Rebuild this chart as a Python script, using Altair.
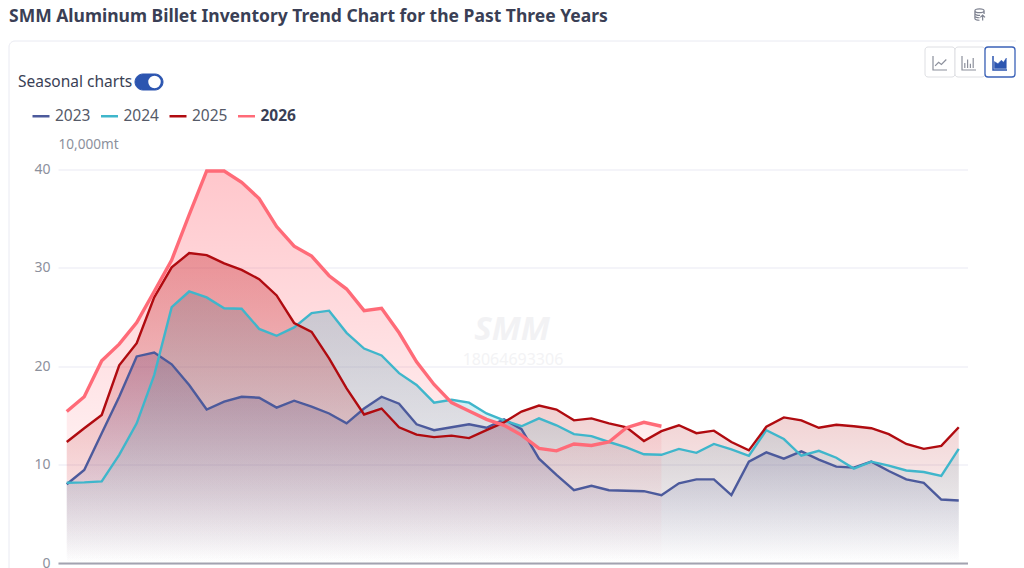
import altair as alt

years = ["2023", "2024", "2025", "2026"]
colors = ["#4C5A9C", "#3FB6CB", "#B00B10", "#FF6B78"]

v2023 = [8.0, 9.45, 13.2, 16.9, 21.0, 21.4, 20.2, 18.1, 15.6, 16.4, 16.9, 16.8, 15.8, 16.5, 15.9, 15.2,
         14.2, 15.7, 16.9, 16.2, 14.1, 13.5, 13.8, 14.1, 13.75, 14.6, 13.6, 10.6, 8.95, 7.4, 7.85, 7.4,
         7.35, 7.3, 6.9, 8.1, 8.5, 8.5, 6.9, 10.3, 11.25, 10.6, 11.35, 10.5, 9.8, 9.7, 10.3, 9.35, 8.5,
         8.15, 6.45, 6.35]
v2024 = [8.15, 8.2, 8.3, 11.0, 14.2, 19.1, 26.0, 27.6, 27.0, 25.9, 25.85, 23.8, 23.1, 23.95, 25.4, 25.65,
         23.4, 21.8, 21.1, 19.3, 18.1, 16.3, 16.6, 16.3, 15.2, 14.5, 13.9, 14.7, 14.0, 13.1, 12.9, 12.3,
         11.75, 11.05, 11.0, 11.6, 11.2, 12.1, 11.55, 10.9, 13.5, 12.6, 10.9, 11.4, 10.7, 9.6, 10.3, 9.9,
         9.4, 9.25, 8.85, 11.6]
v2025 = [12.3, 13.7, 15.05, 20.1, 22.35, 27.0, 30.05, 31.5, 31.3, 30.45, 29.8, 28.85, 27.2, 24.4, 23.5,
         20.8, 17.75, 15.1, 15.7, 13.8, 13.05, 12.8, 12.95, 12.7, 13.5, 14.3, 15.4, 16.0, 15.6, 14.5, 14.7,
         14.2, 13.8, 12.4, 13.4, 14.0, 13.2, 13.45, 12.3, 11.45, 13.85, 14.8, 14.5, 13.75, 14.05, 13.9,
         13.7, 13.1, 12.1, 11.6, 11.9, 13.8]
v2026 = [15.4, 16.9, 20.55, 22.25, 24.45, 27.6, 30.8, 35.4, 39.85, 39.85, 38.7, 37.05, 34.2, 32.2, 31.2,
         29.2, 27.85, 25.65, 25.9, 23.4, 20.45, 18.15, 16.3, 15.45, 14.6, 14.0, 13.0, 11.65, 11.4, 12.1,
         11.95, 12.3, 13.75, 14.3, 13.9]
series = [v2023, v2024, v2025, v2026]
y_ticks = [0, 10, 20, 30, 40]

title_text = "SMM Aluminum Billet Inventory Trend Chart for the Past Three Years"
TEXT_DARK = "#3A3F55"
TEXT_GRAY = "#8C909C"
BLUE = "#2C55B0"
FONT = "Noto Sans"


def px(x):
    return x - 58


def py(y):
    return y - 169.5


one = alt.Data(values=[{"k": 0}])


def text(s, x, y, size, color, weight="normal", align="left", style="normal", font=FONT):
    return alt.Chart(one).mark_text(
        text=s, align=align, baseline="middle", fontSize=size, color=color,
        fontWeight=weight, font=font, fontStyle=style,
    ).encode(x=alt.value(px(x)), y=alt.value(py(y)))


def box(x0, y0, x1, y1, fill, stroke, radius=3, sw=1):
    return alt.Chart(one).mark_rect(
        fill=fill, stroke=stroke, strokeWidth=sw, cornerRadius=radius,
    ).encode(x=alt.value(px(x0)), x2=alt.value(px(x1)), y=alt.value(py(y0)), y2=alt.value(py(y1)))


def glyph(path, x, y, span, color, filled=False, sw=1.2):
    return alt.Chart(one).mark_point(
        shape=path, size=span * span, filled=filled, opacity=1,
        stroke=color, strokeWidth=sw, fill=color if filled else "transparent",
    ).encode(x=alt.value(px(x)), y=alt.value(py(y)))


def rgba(hex_color, a):
    r, g, b = int(hex_color[1:3], 16), int(hex_color[3:5], 16), int(hex_color[5:7], 16)
    return f"rgba({r},{g},{b},{a})"


x_scale = alt.Scale(domain=[-0.5, 51.5], nice=False, zero=False)
y_scale = alt.Scale(domain=[0, 40], nice=False)
color_scale = alt.Scale(domain=years, range=colors)

x_enc = alt.X("week:Q", scale=x_scale, axis=alt.Axis(
    labels=False, ticks=False, grid=False, title=None, domain=True,
    domainColor="#A3A3B0", domainWidth=2, zindex=1))
y_enc = alt.Y("value:Q", scale=y_scale, axis=alt.Axis(
    values=y_ticks, ticks=False, domain=False, grid=True, gridColor="#F1F1F7", gridWidth=1.5,
    labelFontSize=14, labelColor=TEXT_GRAY, labelFont=FONT, labelPadding=8, zindex=0,
    title="10,000mt", titleAngle=0, titleX=0, titleY=-25, titleAlign="left", titleBaseline="middle",
    titleFontSize=13.6, titleFontWeight="normal", titleColor=TEXT_GRAY, titleFont=FONT))

layers = [box(9, 41, 1040, 640, "transparent", "#E9EAF2", radius=6)]

layers += [
    text("SMM", 512, 330, 33, "#F2F2F4", weight="bold", align="center", style="italic"),
    text("18064693306", 513, 360, 16, "#F3F3F5", align="center"),
]

area_layers = []
line_layers = []
for yr, vals, col in zip(years, series, colors):
    rows = [{"week": i, "value": v, "year": yr} for i, v in enumerate(vals)]
    d = alt.Data(values=rows)
    grad = alt.LinearGradient(
        gradient="linear", x1=0, x2=0, y1=0, y2=1,
        stops=[alt.GradientStop(offset=0, color=rgba(col, 0.38)),
               alt.GradientStop(offset=1, color=rgba(col, 0.0))],
    )
    area_layers.append(alt.Chart(d).mark_area(color=grad, line=False).encode(x=x_enc, y=y_enc))
    line_layers.append(alt.Chart(d).mark_line(strokeWidth=3.4 if yr == "2026" else 2.4).encode(
        x=x_enc, y=y_enc,
        color=alt.Color("year:N", scale=color_scale, legend=alt.Legend(
            orient="none", legendX=px(31), legendY=py(106), direction="horizontal", columns=4,
            title=None, symbolType="stroke", symbolSize=289, symbolStrokeWidth=2.5,
            labelFontSize=15.5, labelFont=FONT, labelOffset=4, columnPadding=4.5, padding=0,
            labelColor={"expr": "datum.label == '2026' ? '#3A3F55' : '#555A68'"},
            labelFontWeight={"expr": "datum.label == '2026' ? 'bold' : 'normal'"},
        )),
    ))
layers += area_layers + line_layers

BX = -2
layers += [
    text(title_text, 9, 16.8, 17.5, TEXT_DARK, weight="bold"),
    text("Seasonal charts", 18, 82, 15.5, TEXT_DARK),
    box(135, 74, 163, 90, BLUE, BLUE, radius=8),
    alt.Chart(one).mark_point(filled=True, fill="#FFFFFF", size=110, opacity=1, stroke="#FFFFFF").encode(
        x=alt.value(px(154.5)), y=alt.value(py(82))),
    box(927 + BX, 47, 957 + BX, 77, "#FFFFFF", "#DEDFE3"),
    box(957 + BX, 47, 987 + BX, 77, "#FFFFFF", "#DEDFE3"),
    box(987 + BX, 47, 1017 + BX, 77, "#FFFFFF", "#3B62B8", sw=1.3),
    glyph("M-1,-1 V1 H1 M-0.7,0.4 L-0.2,-0.1 L0.2,0.2 L0.9,-0.5", 942 + BX, 63, 14, "#8C909C"),
    glyph("M-1,-1 V1 H1 M-0.6,0.7 V0 M-0.2,0.7 V-0.5 M0.2,0.7 V0.1 M0.6,0.7 V-0.7", 971 + BX, 63, 14, "#8C909C"),
    glyph("M-1,-1 V1 H1", 1002 + BX, 63, 14, BLUE, sw=1.5),
    glyph("M-0.8,0.8 V-0.2 L-0.3,0.1 L0.2,-0.4 L0.5,-0.1 L0.9,-0.7 V0.8 Z", 1002 + BX, 63, 14, BLUE, filled=True, sw=0.5),
    glyph("M-0.8,-0.65 C-0.8,-1.1 0.8,-1.1 0.8,-0.65 C0.8,-0.2 -0.8,-0.2 -0.8,-0.65 "
          "M-0.8,-0.65 V0.7 C-0.8,0.95 -0.3,1 0,1 M0.8,-0.65 V-0.1 "
          "M-0.8,-0.2 C-0.8,0.1 -0.2,0.2 0.1,0.15 M-0.8,0.25 C-0.8,0.5 -0.3,0.6 0,0.55 "
          "M0.55,1.05 V0.1 M0.15,0.5 L0.55,0.1 L0.95,0.5", 979.5, 14.5, 11.5, "#7E8290", sw=1.2),
]

chart = alt.layer(*layers).resolve_scale(color="shared").properties(
    width=909.5, height=393.5,
    autosize=alt.AutoSizeParams(type="none"),
    padding={"left": 50, "top": 161.5, "right": 48.5, "bottom": 5},
    background="#FFFFFF",
).configure_view(stroke=None)

chart.save("out.html", embed_options={"renderer": "svg", "actions": False})
